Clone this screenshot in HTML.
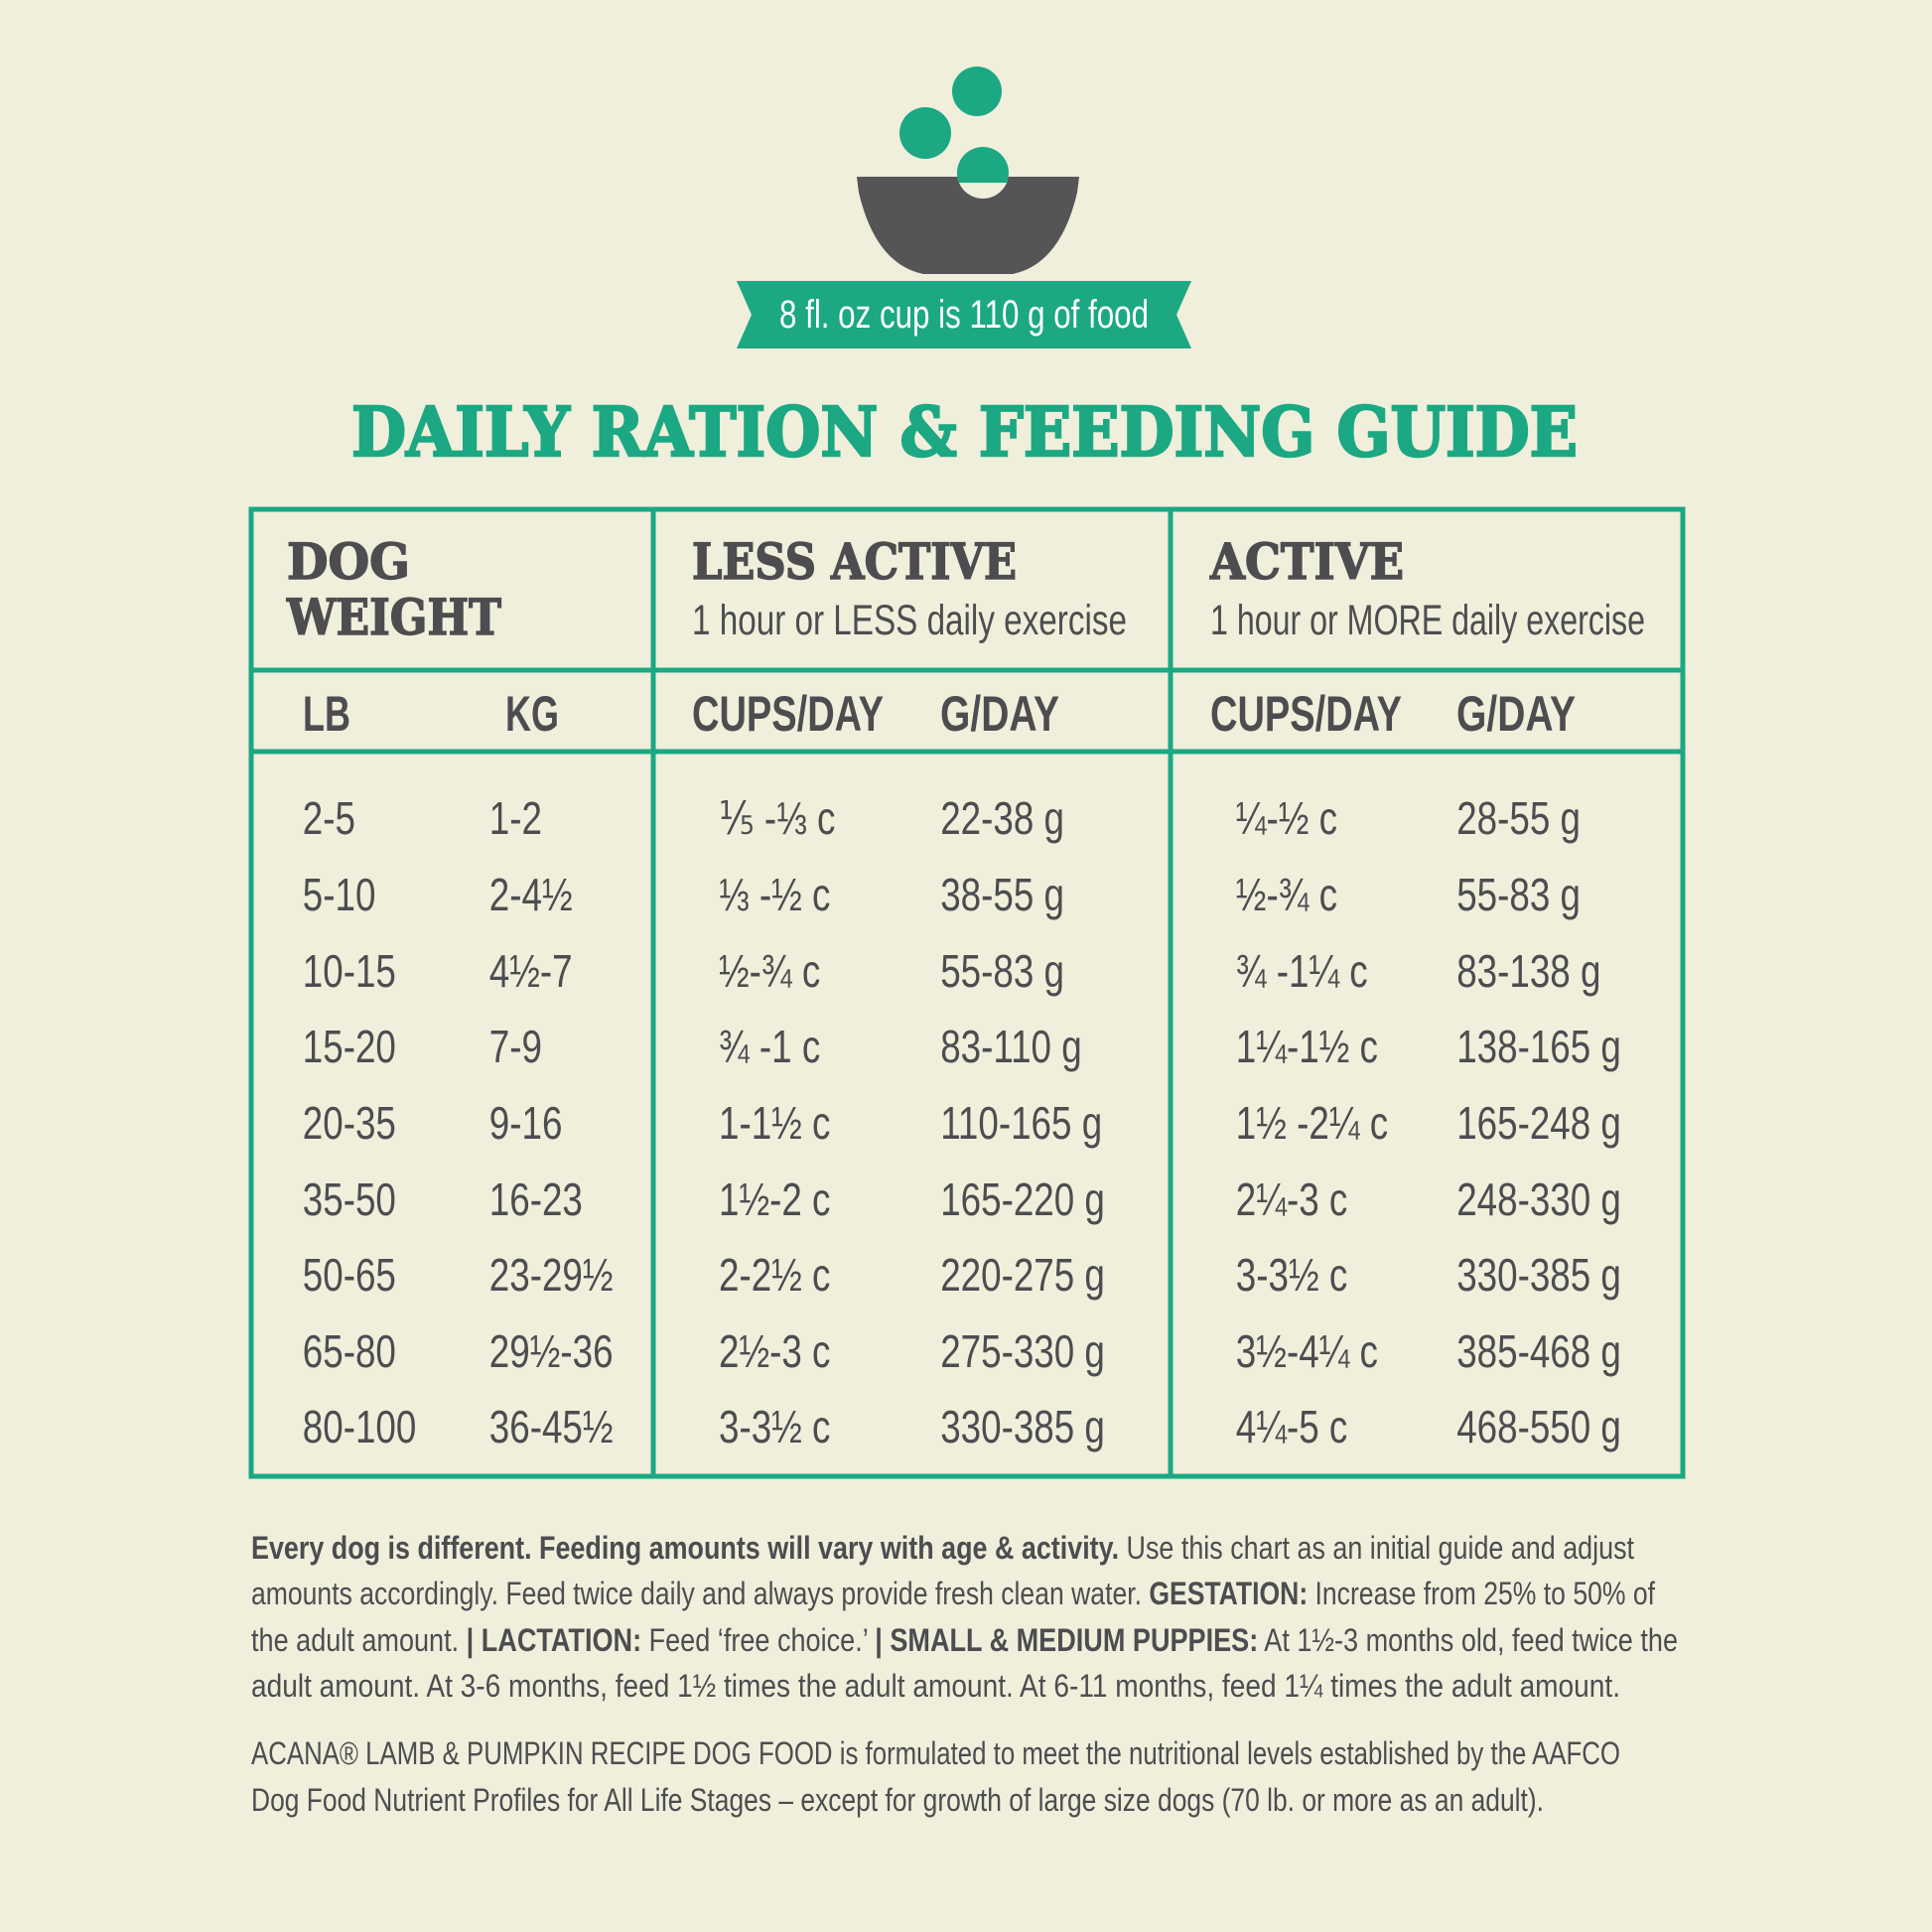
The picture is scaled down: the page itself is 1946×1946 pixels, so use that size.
<!DOCTYPE html>
<html><head><meta charset="utf-8"><style>
html,body{margin:0;padding:0;background:#efefdc;}
svg{display:block;}
.n{font-family:"Liberation Sans Narrow","Liberation Sans",sans-serif;}
.s{font-family:"DejaVu Serif","Liberation Serif",serif;font-weight:bold;}
</style></head><body>
<svg width="1946" height="1946" viewBox="0 0 1946 1946" xmlns="http://www.w3.org/2000/svg">
<rect width="1946" height="1946" fill="#efefdc"/>
<circle cx="984" cy="92" r="25" fill="#1ba883"/>
<circle cx="932" cy="134" r="26" fill="#1ba883"/>
<path d="M863,178 L1087,178 L1085,194 Q1068,266 1020,276 L930,276 Q882,266 865,194 Z" fill="#555558"/>
<circle cx="990" cy="174" r="26" fill="#efefdc"/>
<clipPath id="c"><rect x="950" y="140" width="80" height="44"/></clipPath>
<circle cx="990" cy="174" r="26" fill="#1ba883" clip-path="url(#c)"/>
<polygon points="742,283 1200,283 1185,317 1200,351 742,351 757,317" fill="#1ba883"/>
<text x="971" y="330" class="n" font-size="40" fill="#fff" text-anchor="middle" textLength="372" lengthAdjust="spacingAndGlyphs">8 fl. oz cup is 110 g of food</text>
<text x="354" y="459" class="s" font-size="68" fill="#1ba883" stroke="#1ba883" stroke-width="2.5" textLength="1235" lengthAdjust="spacingAndGlyphs">DAILY RATION &amp; FEEDING GUIDE</text>
<g stroke="#1ba883" stroke-width="5" fill="none">
<rect x="253" y="513" width="1442" height="974"/>
<line x1="658" y1="513" x2="658" y2="1487"/>
<line x1="1179" y1="513" x2="1179" y2="1487"/>
<line x1="253" y1="675" x2="1695" y2="675"/>
<line x1="253" y1="757" x2="1695" y2="757"/>
</g>
<g fill="#4d4d50">
<g stroke="#4d4d50" stroke-width="1.5">
<text x="289" y="583" class="s" font-size="50" textLength="124" lengthAdjust="spacingAndGlyphs">DOG</text>
<text x="289" y="639" class="s" font-size="50" textLength="216" lengthAdjust="spacingAndGlyphs">WEIGHT</text>
<text x="697" y="583" class="s" font-size="50" textLength="327" lengthAdjust="spacingAndGlyphs">LESS ACTIVE</text>
<text x="1219" y="583" class="s" font-size="50" textLength="195" lengthAdjust="spacingAndGlyphs">ACTIVE</text>
</g>
<text x="697" y="639" class="n" font-size="43" textLength="438" lengthAdjust="spacingAndGlyphs">1 hour or LESS daily exercise</text>
<text x="1219" y="639" class="n" font-size="43" textLength="438" lengthAdjust="spacingAndGlyphs">1 hour or MORE daily exercise</text>
<g class="n" font-size="50" font-weight="bold">
<g transform="scale(0.72 1)">
<text x="423.6" y="736">LB</text>
<text x="706.9" y="736">KG</text>
</g>
<text x="697" y="736" textLength="193" lengthAdjust="spacingAndGlyphs">CUPS/DAY</text>
<text x="947" y="736" textLength="120" lengthAdjust="spacingAndGlyphs">G/DAY</text>
<text x="1219" y="736" textLength="193" lengthAdjust="spacingAndGlyphs">CUPS/DAY</text>
<text x="1467" y="736" textLength="120" lengthAdjust="spacingAndGlyphs">G/DAY</text>
</g>
<g class="n" font-size="46" transform="scale(0.8 1)">
<text x="381" y="840">2-5</text><text x="616" y="840">1-2</text><text x="905" y="840">⅕ -⅓ c</text><text x="1184" y="840">22-38 g</text><text x="1556" y="840">¼-½ c</text><text x="1834" y="840">28-55 g</text>
<text x="381" y="917">5-10</text><text x="616" y="917">2-4½</text><text x="905" y="917">⅓ -½ c</text><text x="1184" y="917">38-55 g</text><text x="1556" y="917">½-¾ c</text><text x="1834" y="917">55-83 g</text>
<text x="381" y="994">10-15</text><text x="616" y="994">4½-7</text><text x="905" y="994">½-¾ c</text><text x="1184" y="994">55-83 g</text><text x="1556" y="994">¾ -1¼ c</text><text x="1834" y="994">83-138 g</text>
<text x="381" y="1070">15-20</text><text x="616" y="1070">7-9</text><text x="905" y="1070">¾ -1 c</text><text x="1184" y="1070">83-110 g</text><text x="1556" y="1070">1¼-1½ c</text><text x="1834" y="1070">138-165 g</text>
<text x="381" y="1147">20-35</text><text x="616" y="1147">9-16</text><text x="905" y="1147">1-1½ c</text><text x="1184" y="1147">110-165 g</text><text x="1556" y="1147">1½ -2¼ c</text><text x="1834" y="1147">165-248 g</text>
<text x="381" y="1224">35-50</text><text x="616" y="1224">16-23</text><text x="905" y="1224">1½-2 c</text><text x="1184" y="1224">165-220 g</text><text x="1556" y="1224">2¼-3 c</text><text x="1834" y="1224">248-330 g</text>
<text x="381" y="1300">50-65</text><text x="616" y="1300">23-29½</text><text x="905" y="1300">2-2½ c</text><text x="1184" y="1300">220-275 g</text><text x="1556" y="1300">3-3½ c</text><text x="1834" y="1300">330-385 g</text>
<text x="381" y="1377">65-80</text><text x="616" y="1377">29½-36</text><text x="905" y="1377">2½-3 c</text><text x="1184" y="1377">275-330 g</text><text x="1556" y="1377">3½-4¼ c</text><text x="1834" y="1377">385-468 g</text>
<text x="381" y="1453">80-100</text><text x="616" y="1453">36-45½</text><text x="905" y="1453">3-3½ c</text><text x="1184" y="1453">330-385 g</text><text x="1556" y="1453">4¼-5 c</text><text x="1834" y="1453">468-550 g</text>
</g>
<g class="n" font-size="32">
<text x="253" y="1570" textLength="1393" lengthAdjust="spacingAndGlyphs"><tspan font-weight="bold">Every dog is different. Feeding amounts will vary with age &amp; activity.</tspan> Use this chart as an initial guide and adjust</text>
<text x="253" y="1616" textLength="1414" lengthAdjust="spacingAndGlyphs">amounts accordingly. Feed twice daily and always provide fresh clean water. <tspan font-weight="bold">GESTATION:</tspan> Increase from 25% to 50% of</text>
<text x="253" y="1663" textLength="1437" lengthAdjust="spacingAndGlyphs">the adult amount. <tspan font-weight="bold">| LACTATION:</tspan> Feed ‘free choice.’ <tspan font-weight="bold">| SMALL &amp; MEDIUM PUPPIES:</tspan> At 1½-3 months old, feed twice the</text>
<text x="253" y="1709" textLength="1379" lengthAdjust="spacingAndGlyphs">adult amount. At 3-6 months, feed 1½ times the adult amount. At 6-11 months, feed 1¼ times the adult amount.</text>
<text x="253" y="1777" textLength="1379" lengthAdjust="spacingAndGlyphs">ACANA® LAMB &amp; PUMPKIN RECIPE DOG FOOD is formulated to meet the nutritional levels established by the AAFCO</text>
<text x="253" y="1824" textLength="1302" lengthAdjust="spacingAndGlyphs">Dog Food Nutrient Profiles for All Life Stages – except for growth of large size dogs (70 lb. or more as an adult).</text>
</g>
</g>
</svg>
</body></html>
